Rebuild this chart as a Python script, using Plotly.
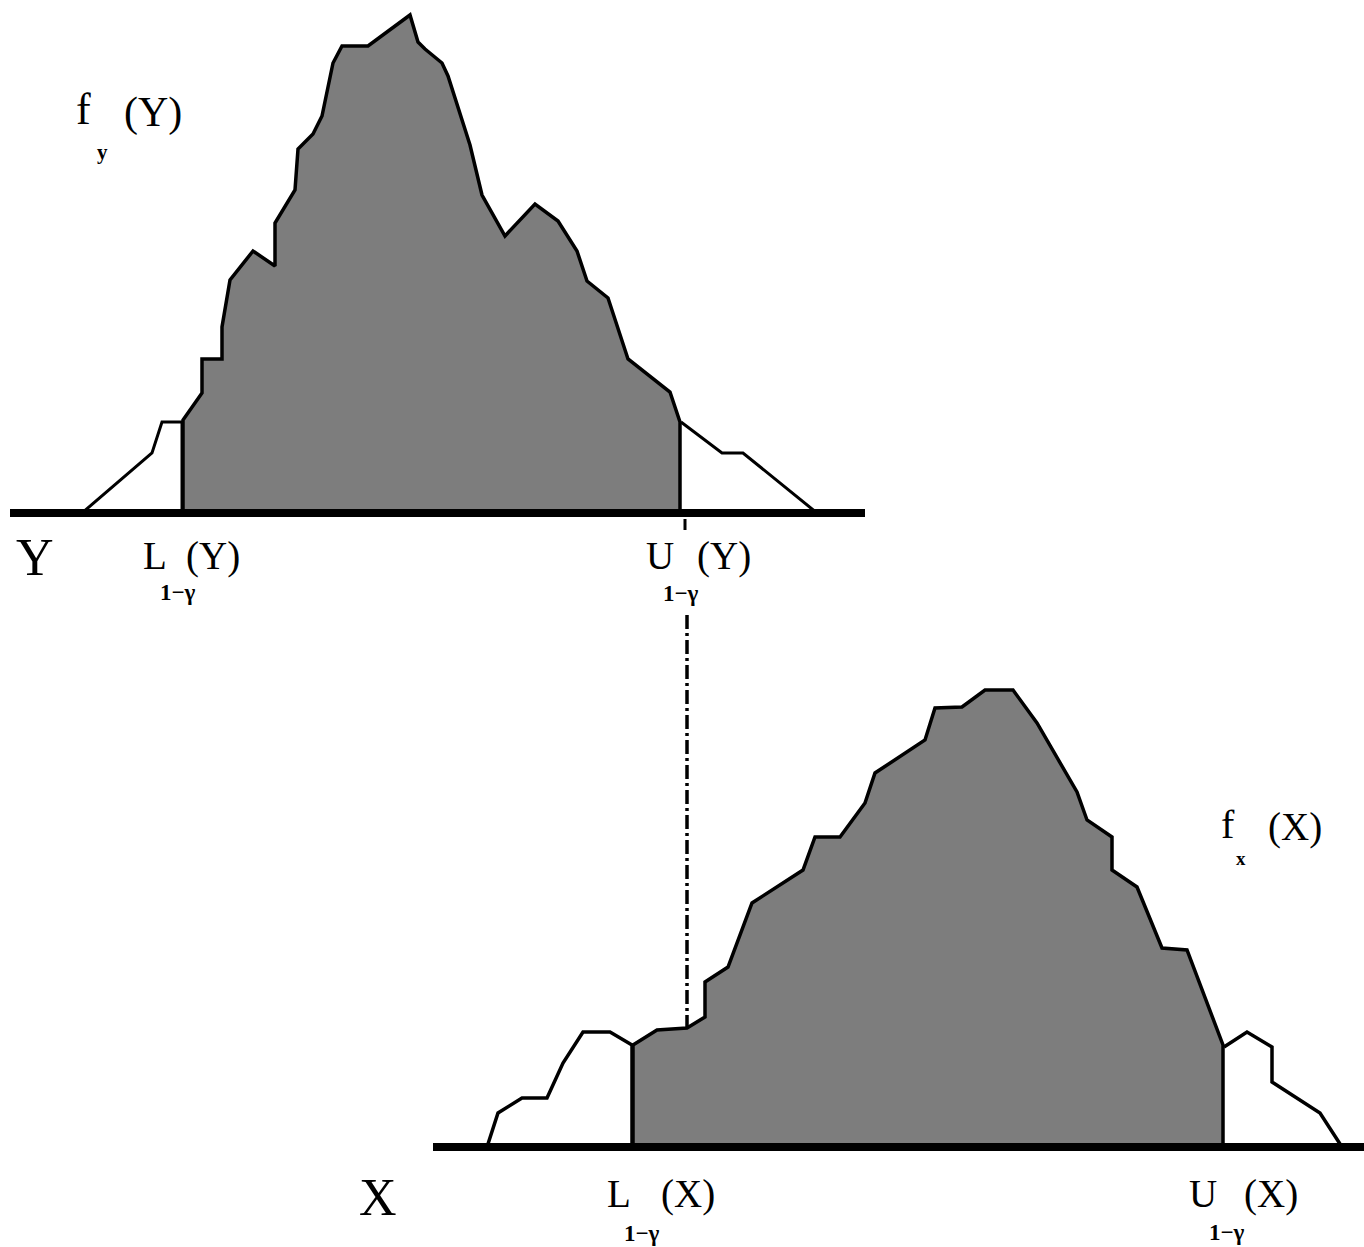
import plotly.graph_objects as go

W, H = 1364, 1247

# ---------------- Top distribution f_y(Y) ----------------
# left (unshaded) tail
y_tail_left_x = [8.2, 15.2, 16.2, 18.2, 18.2]
y_tail_left_d = [0.0, 6.0, 9.1, 9.1, 0.0]
# shaded central region (between L and U)
y_mid_x = [18.3, 18.3, 20.2, 20.2, 22.2, 22.2, 23.0, 25.3, 27.5, 27.5, 29.5, 29.8, 31.3, 32.2,
           33.3, 34.2, 36.8, 41.0, 41.8, 42.5, 44.2, 44.8, 47.0, 48.2, 50.5, 53.5, 55.8, 57.7,
           58.7, 60.8, 62.8, 67.0, 68.0, 68.0]
y_mid_d = [0.0, 9.3, 12.0, 15.4, 15.4, 18.6, 23.3, 26.2, 24.7, 29.0, 32.3, 36.4, 37.9, 39.7,
           45.0, 46.7, 46.7, 49.8, 47.1, 46.4, 45.0, 43.7, 36.8, 31.8, 27.7, 30.9, 29.2, 26.2,
           23.2, 21.5, 15.4, 12.1, 9.1, 0.0]
# right tail
y_tail_right_x = [68.1, 72.2, 74.3, 81.7]
y_tail_right_d = [9.1, 6.0, 6.0, 0.0]
y_axis_line = [1.0, 86.5]
u_y_tick = 68.5

# ---------------- Bottom distribution f_x(X) ----------------
x_tail_left_x = [48.7, 49.8, 52.2, 54.7, 56.3, 58.3, 61.0, 63.2, 63.2]
x_tail_left_d = [0.0, 3.4, 4.9, 4.9, 8.4, 11.5, 11.5, 10.2, 0.0]
x_mid_x = [63.3, 63.3, 65.7, 68.7, 70.5, 70.5, 72.8, 75.2, 80.3, 81.5, 84.0, 86.5, 87.5,
           92.5, 93.5, 96.2, 98.5, 101.3, 103.7, 107.7, 108.7, 111.2, 111.2, 113.7, 116.2,
           118.7, 122.3, 122.3]
x_mid_d = [0.0, 10.2, 11.7, 11.9, 13.0, 16.5, 18.0, 24.4, 27.7, 31.0, 31.0, 34.4, 37.4,
           40.7, 43.9, 44.0, 45.7, 45.7, 42.4, 35.5, 32.7, 31.0, 27.7, 26.0, 19.9,
           19.7, 10.2, 0.0]
x_tail_right_x = [122.4, 124.7, 127.2, 127.2, 132.0, 134.2]
x_tail_right_d = [10.0, 11.5, 10.0, 6.5, 3.4, 0.0]
x_axis_line = [43.3, 136.4]

# projection of U(Y) onto the X axis (dash-dot)
proj_x = [68.7, 68.7]
proj_d = [53.2, 11.9]

FILL = "#7d7d7d"
LW = 3.5

fig = go.Figure()

def add(x, y, xa, ya, fill=None, width=LW, dash=None):
    kw = dict(x=x, y=y, mode="lines", xaxis=xa, yaxis=ya, hoverinfo="skip",
              line=dict(color="black", width=width, dash=dash))
    if fill:
        kw.update(fill="toself", fillcolor=fill)
    fig.add_trace(go.Scatter(**kw))

# top
add(y_mid_x, y_mid_d, "x", "y", fill=FILL)
add(y_tail_left_x, y_tail_left_d, "x", "y", width=3)
add(y_tail_right_x, y_tail_right_d, "x", "y", width=3)
add(y_axis_line, [0, 0], "x", "y", width=8)
add([u_y_tick, u_y_tick], [-0.6, -1.7], "x", "y", width=3)

# bottom
add(x_mid_x, x_mid_d, "x2", "y2", fill=FILL)
add(x_tail_left_x, x_tail_left_d, "x2", "y2")
add(x_tail_right_x, x_tail_right_d, "x2", "y2")
add(x_axis_line, [0, 0], "x2", "y2", width=8)
add(proj_x, proj_d, "x2", "y2", width=3.5, dash="14px,4px,3px,4px")

SERIF = "Liberation Serif"

def txt(s, px, py, size, bold=False):
    fig.add_annotation(
        text=("<b>%s</b>" % s) if bold else s,
        x=px / W, y=1 - py / H, xref="paper", yref="paper",
        showarrow=False, xanchor="center", yanchor="middle",
        font=dict(family=SERIF, size=size, color="black"))

# top labels
txt("f", 83, 109, 44)
txt("(Y)", 153, 112, 42)
txt("y", 102, 152, 21, bold=True)
txt("Y", 35, 557, 52)
txt("L", 155, 555, 39)
txt("(Y)", 213, 556, 39)
txt("1\u2212\u03b3", 178, 592, 23, bold=True)
txt("U", 660, 555, 39)
txt("(Y)", 724, 556, 39)
txt("1\u2212\u03b3", 681, 593, 23, bold=True)

# bottom labels
txt("f", 1228, 824, 40)
txt("(X)", 1295, 827, 39)
txt("x", 1241, 859, 19, bold=True)
txt("X", 378, 1197, 52)
txt("L", 619, 1193, 39)
txt("(X)", 688, 1194, 39)
txt("1\u2212\u03b3", 642, 1233, 23, bold=True)
txt("U", 1203, 1193, 39)
txt("(X)", 1271, 1194, 39)
txt("1\u2212\u03b3", 1227, 1232, 23, bold=True)

ax = dict(visible=False, showgrid=False, zeroline=False, fixedrange=True)
fig.update_layout(
    width=W, height=H, margin=dict(l=0, r=0, t=0, b=0),
    paper_bgcolor="white", plot_bgcolor="rgba(0,0,0,0)", showlegend=False,
    xaxis=dict(domain=[0, 1], range=[0, W / 10], **ax),
    yaxis=dict(domain=[0.5, 1], range=[-11.05, 51.3], **ax),
    xaxis2=dict(domain=[0, 1], range=[0, W / 10], anchor="y2", **ax),
    yaxis2=dict(domain=[0, 0.56], range=[-10, 59.83], anchor="x2", **ax),
)

fig.write_html("out.html", config={"displayModeBar": False},
               post_script="document.body.style.margin='0';document.body.style.overflow='hidden';")
